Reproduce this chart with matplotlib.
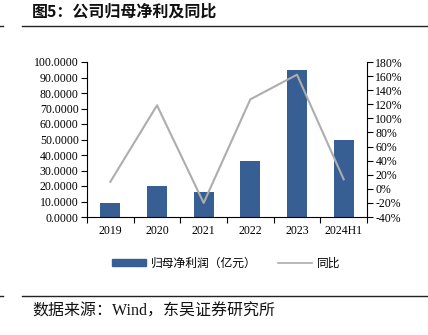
import matplotlib
matplotlib.use('Agg')
import matplotlib.pyplot as plt
from matplotlib.ticker import FuncFormatter, MultipleLocator
from matplotlib.lines import Line2D
from matplotlib.patches import Patch
import numpy as np

# Data
years = ['2019', '2020', '2021', '2022', '2023', '2024H1']
net_profit = [9.0, 19.7, 16.0, 36.3, 94.8, 50.0]     # 亿元
yoy = [10.0, 118.5, -20.0, 127.0, 162.0, 13.5]         # %

CJK = ['Noto Sans CJK SC', 'DejaVu Sans']
SERIF = 'Liberation Serif'
BAR_COLOR = '#375F94'
LINE_COLOR = '#ADADAD'

fig = plt.figure(figsize=(4.28, 3.35), dpi=100)

# header / footer rules
fig.add_artist(Line2D([22 / 428, 1], [1 - 26 / 335] * 2, color='#222222', lw=1.0))
fig.add_artist(Line2D([0, 3 / 428], [1 - 26 / 335] * 2, color='#222222', lw=1.0))
fig.add_artist(Line2D([22 / 428, 1], [1 - 296 / 335] * 2, color='#222222', lw=1.0))
fig.add_artist(Line2D([0, 3 / 428], [1 - 296 / 335] * 2, color='#222222', lw=1.0))

fig.text(32 / 428, 1 - 12 / 335, '图5：公司归母净利及同比', family=CJK, fontsize=11.5,
         fontweight='bold', va='center', ha='left', color='#111111')
fig.text(32 / 428, 1 - 312 / 335, '数据来源：Wind，东吴证券研究所',
         family=['Liberation Serif', 'Noto Sans CJK SC'], fontsize=11.5,
         va='center', ha='left', color='#111111')

ax = fig.add_axes([87 / 428, 1 - 217 / 335, 280 / 428, 155 / 335])
x = np.arange(len(years))
ax.bar(x, net_profit, width=0.43, color=BAR_COLOR, zorder=2)
ax.set_xlim(-0.5, len(years) - 0.5)
ax.set_ylim(0, 100)
ax.yaxis.set_major_locator(MultipleLocator(10))
ax.yaxis.set_major_formatter(FuncFormatter(lambda v, p: f'{v:.4f}'))
ax.set_xticks(x)
ax.set_xticklabels(years)
ax.set_xticks(np.arange(-0.5, len(years)), minor=True)
ax.tick_params(axis='x', which='major', length=0, pad=6)
ax.tick_params(axis='x', which='minor', length=4, direction='out', width=0.8)
ax.tick_params(axis='y', length=4, direction='out', width=0.8, pad=2)
for s in ['top', 'right']:
    ax.spines[s].set_visible(False)
for s in ['left', 'bottom']:
    ax.spines[s].set_linewidth(0.8)
for lbl in ax.get_xticklabels() + ax.get_yticklabels():
    lbl.set_family(SERIF)
    lbl.set_fontsize(8.5)

ax2 = ax.twinx()
ax2.plot(x, yoy, color=LINE_COLOR, lw=1.5, zorder=3)
ax2.set_ylim(-40, 180)
ax2.yaxis.set_major_locator(MultipleLocator(20))
ax2.yaxis.set_major_formatter(FuncFormatter(lambda v, p: f'{v:.0f}%'))
ax2.tick_params(axis='y', length=4, direction='out', width=0.8, pad=2)
for s in ['top', 'left', 'bottom']:
    ax2.spines[s].set_visible(False)
ax2.spines['right'].set_linewidth(0.8)
for lbl in ax2.get_yticklabels():
    lbl.set_family(SERIF)
    lbl.set_fontsize(8.5)

handles = [Patch(color=BAR_COLOR), Line2D([], [], color=LINE_COLOR, lw=1.2)]
fig.legend(handles, ['归母净利润（亿元）', '同比'], loc='center',
           bbox_to_anchor=(226 / 428, 1 - 263 / 335), ncol=2, frameon=False,
           prop={'family': CJK, 'size': 8.5}, handlelength=2.9, handleheight=0.55,
           columnspacing=1.8, handletextpad=0.4)

fig.savefig('out.png', dpi=100)
